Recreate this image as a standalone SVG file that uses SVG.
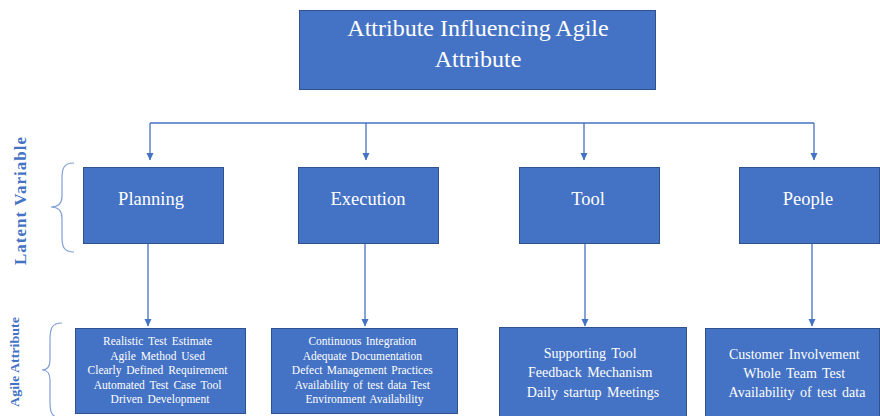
<svg xmlns="http://www.w3.org/2000/svg" width="880" height="416" viewBox="0 0 880 416">
  <defs>
    <marker id="arrow" markerWidth="8" markerHeight="8" refX="7" refY="4" orient="auto" markerUnits="userSpaceOnUse">
      <path d="M0,0.5 L7.5,4 L0,7.5 Z" fill="#4472C4"/>
    </marker>
    <style>
      .box { fill: #4472C4; stroke: #2F528F; stroke-width: 1; }
      .conn { fill: none; stroke: #4472C4; stroke-width: 1.3; }
      .brace { fill: none; stroke: #7F9FD6; stroke-width: 1.2; }
      .t { font-family: "Liberation Serif", "Times New Roman", serif; fill: #FFFFFF; text-anchor: middle; }
      .side { font-family: "Liberation Serif", "Times New Roman", serif; fill: #4472C4; font-weight: bold; text-anchor: middle; }
    </style>
  </defs>
  <rect width="880" height="416" fill="#FFFFFF"/>

  <!-- root -->
  <g id="root">
    <rect class="box" x="299.5" y="10.5" width="356" height="79"/>
    <text class="t" x="478" y="36" font-size="24">Attribute Influencing Agile</text>
    <text class="t" x="478" y="67" font-size="24">Attribute</text>
  </g>

  <!-- latent variables -->
  <g id="planning">
    <rect class="box" x="83.5" y="167.5" width="140" height="76"/>
    <text class="t" x="151" y="205" font-size="18.5">Planning</text>
  </g>
  <g id="execution">
    <rect class="box" x="298.5" y="167.5" width="140" height="76"/>
    <text class="t" x="368" y="205" font-size="18.5">Execution</text>
  </g>
  <g id="tool">
    <rect class="box" x="519.5" y="167.5" width="140" height="76"/>
    <text class="t" x="588" y="205" font-size="18.5">Tool</text>
  </g>
  <g id="people">
    <rect class="box" x="739.5" y="167.5" width="140" height="76"/>
    <text class="t" x="808" y="205" font-size="18.5">People</text>
  </g>

  <!-- agile attributes -->
  <g id="planning-attr">
    <rect class="box" x="75.5" y="328.5" width="170" height="85"/>
    <text class="t" font-size="11.5" word-spacing="2">
      <tspan x="160" y="345">Realistic Test Estimate</tspan>
      <tspan x="160" y="359.5">Agile Method Used</tspan>
      <tspan x="160" y="374">Clearly Defined Requirement</tspan>
      <tspan x="160" y="388.5">Automated Test Case Tool</tspan>
      <tspan x="160" y="403">Driven Development</tspan>
    </text>
  </g>
  <g id="execution-attr">
    <rect class="box" x="271.5" y="328.5" width="186" height="85"/>
    <text class="t" font-size="11.5" word-spacing="1.5">
      <tspan x="364.5" y="345">Continuous Integration</tspan>
      <tspan x="364.5" y="359.5">Adequate Documentation</tspan>
      <tspan x="364.5" y="374">Defect Management Practices</tspan>
      <tspan x="364.5" y="388.5">Availability of test data Test</tspan>
      <tspan x="364.5" y="403">Environment Availability</tspan>
    </text>
  </g>
  <g id="tool-attr">
    <rect class="box" x="499.5" y="327.5" width="187" height="95"/>
    <text class="t" font-size="14" word-spacing="2">
      <tspan x="593" y="358">Supporting Tool</tspan>
      <tspan x="593" y="377">Feedback Mechanism</tspan>
      <tspan x="593" y="396.5">Daily startup Meetings</tspan>
    </text>
  </g>
  <g id="people-attr">
    <rect class="box" x="705.5" y="328.5" width="174" height="95"/>
    <text class="t" font-size="14" word-spacing="2">
      <tspan x="797" y="359">Customer Involvement</tspan>
      <tspan x="797" y="377.5">Whole Team Test</tspan>
      <tspan x="797" y="396.5">Availability of test data</tspan>
    </text>
  </g>

  <!-- side labels with braces -->
  <g id="latent-label">
    <path class="brace" d="M74,163 C64,163 62,168 62,178 L62,196 C62,203 58,207 51,207 C58,207 62,211 62,218 L62,237 C62,247 64,252 74,252"/>
    <text class="side" transform="translate(26,201) rotate(-90)" font-size="17" textLength="128" lengthAdjust="spacing">Latent Variable</text>
  </g>
  <g id="agile-label">
    <path class="brace" d="M62,323 C52,323 50,328 50,340 L50,360 C50,367 47,370 42,370 C47,370 50,373 50,380 L50,402 C50,413 52,418 62,418"/>
    <text class="side" transform="translate(19,362) rotate(-90)" font-size="13.5" textLength="90" lengthAdjust="spacingAndGlyphs">Agile Attribute</text>
  </g>

  <!-- connectors -->
  <g id="connectors">
    <path class="conn" d="M150,123 L814,123"/>
    <path class="conn" d="M150,123 L150,160" marker-end="url(#arrow)"/>
    <path class="conn" d="M366,123 L366,160" marker-end="url(#arrow)"/>
    <path class="conn" d="M584,123 L584,160" marker-end="url(#arrow)"/>
    <path class="conn" d="M814,123 L814,160" marker-end="url(#arrow)"/>
    <path class="conn" d="M148,244 L148,326" marker-end="url(#arrow)"/>
    <path class="conn" d="M365,244 L365,326" marker-end="url(#arrow)"/>
    <path class="conn" d="M585,244 L585,326" marker-end="url(#arrow)"/>
    <path class="conn" d="M812,244 L812,326" marker-end="url(#arrow)"/>
  </g>
</svg>
